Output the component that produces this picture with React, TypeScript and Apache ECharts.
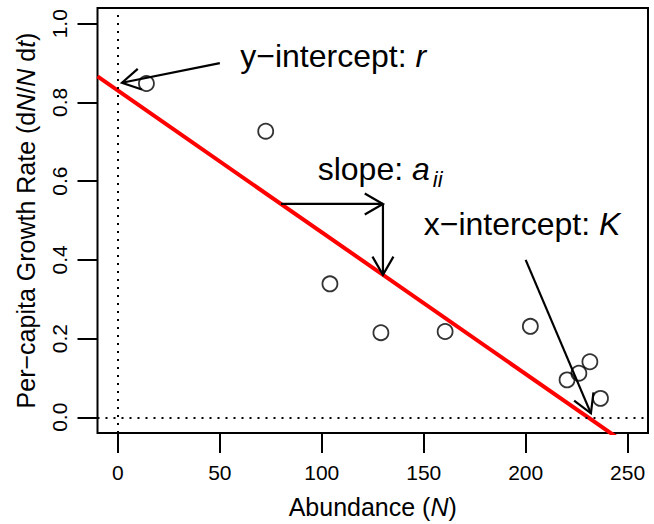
import React, { useEffect, useRef } from "react";
import * as echarts from "echarts";

// ---- data ----
const abundance = [14, 72.5, 104, 129, 160.5, 202.3, 220.3, 226.1, 231.5, 236.7];
const growthRate = [0.848, 0.727, 0.339, 0.215, 0.218, 0.231, 0.095, 0.112, 0.141, 0.048];
const xTicks = [0, 50, 100, 150, 200, 250];
const yTicks = [0, 0.2, 0.4, 0.6, 0.8, 1.0];
const xRange = [-10, 260];
const yRange = [-0.04, 1.04];
const fitIntercept = 0.83;
const fitSlope = -0.0036;

// annotation anchors (data units)
const yInterceptArrow = [[50, 0.9], [2, 0.85]];
const slopeArrowX = [80, 130];
const kArrow = [[200, 0.4], [232, 0.01]];
const yInterceptLabelPos = [60, 0.917];
const slopeLabelPos = [98, 0.632];
const kLabelPos = [150, 0.49];

const FONT = "'Liberation Sans', Arial, Helvetica, sans-serif";
const ANN_SIZE = 32;

function fitAt(x: number) {
  return fitIntercept + fitSlope * x;
}

function measure(text: string, font: string) {
  const c = document.createElement("canvas").getContext("2d")!;
  c.font = font;
  return c.measureText(text).width;
}

export default function App() {
  const ref = useRef<HTMLDivElement>(null);
  useEffect(() => {
    const chart = echarts.init(ref.current!, undefined, { renderer: "svg" });
    const option: any = {
      animation: false,
      textStyle: { fontFamily: FONT },
      grid: {
        left: 97.5,
        right: 6,
        top: 8,
        bottom: 85,
        show: true,
        borderColor: "#000",
        borderWidth: 2,
        backgroundColor: "transparent",
      },
      xAxis: {
        type: "value",
        min: xRange[0],
        max: xRange[1],
        name: "Abundance ({i|N})",
        nameLocation: "middle",
        nameGap: 61,
        nameTextStyle: {
          fontSize: 25,
          color: "#000",
          fontFamily: FONT,
          rich: { i: { fontSize: 25, fontStyle: "italic", fontFamily: FONT, color: "#000" } },
        },
        axisLine: { show: false, onZero: false },
        axisTick: {
          show: true,
          length: 20,
          lineStyle: { color: "#000", width: 2 },
          customValues: xTicks,
        },
        axisLabel: {
          show: true,
          fontSize: 21,
          color: "#000",
          margin: 29,
          customValues: xTicks,
          formatter: (v: number) => String(v),
        },
        splitLine: { show: false },
      },
      yAxis: {
        type: "value",
        min: yRange[0],
        max: yRange[1],
        name: "Per\u2212capita Growth Rate (d{i|N}/{i|N} d{i|t})",
        nameLocation: "middle",
        nameGap: 59,
        nameTextStyle: {
          fontSize: 25,
          color: "#000",
          fontFamily: FONT,
          rich: { i: { fontSize: 25, fontStyle: "italic", fontFamily: FONT, color: "#000" } },
        },
        axisLine: { show: false, onZero: false },
        axisTick: {
          show: true,
          length: 20,
          lineStyle: { color: "#000", width: 2 },
          customValues: yTicks,
        },
        axisLabel: {
          show: true,
          fontSize: 21,
          color: "#000",
          margin: 28,
          rotate: 90,
          customValues: yTicks,
          formatter: (v: number) => v.toFixed(1),
        },
        splitLine: { show: false },
      },
      series: [
        {
          type: "scatter",
          z: 2,
          data: abundance.map((x, i) => [x, growthRate[i]]),
          symbol: "circle",
          symbolSize: 15,
          itemStyle: { color: "rgba(0,0,0,0)", borderColor: "#000", borderWidth: 1.8 },
          markLine: {
            silent: true,
            symbol: ["none", "none"],
            label: { show: false },
            lineStyle: { color: "#000", type: [2, 6], width: 2 },
            data: [{ xAxis: 0 }, { yAxis: 0 }],
          },
        },
        {
          type: "line",
          z: 3,
          showSymbol: false,
          clip: true,
          data: [
            [xRange[0], fitAt(xRange[0])],
            [xRange[1], fitAt(xRange[1])],
          ],
          lineStyle: { color: "#ff0000", width: 4 },
        },
      ],
    };
    chart.setOption(option);

    const px = (p: number[]) => chart.convertToPixel({ gridIndex: 0 }, p) as number[];
    const HEAD = 21;
    const arrow = (a: number[], b: number[]) => {
      const p0 = px(a);
      const p1 = px(b);
      const th = Math.atan2(p1[1] - p0[1], p1[0] - p0[0]);
      const ang = Math.PI / 6;
      const h1 = [p1[0] - HEAD * Math.cos(th - ang), p1[1] - HEAD * Math.sin(th - ang)];
      const h2 = [p1[0] - HEAD * Math.cos(th + ang), p1[1] - HEAD * Math.sin(th + ang)];
      const ls = { stroke: "#000", lineWidth: 2.2, fill: null };
      return [
        { type: "polyline", z: 100, shape: { points: [p0, p1] }, style: ls },
        { type: "polyline", z: 100, shape: { points: [h1, p1, h2] }, style: ls },
      ];
    };

    const normalFont = `${ANN_SIZE}px ${FONT}`;
    const italicFont = `italic ${ANN_SIZE}px ${FONT}`;
    const sp = px(slopeLabelPos);
    const slopeW = measure("slope: ", normalFont) + measure("a", italicFont);

    const txt = (p: number[], text: string, rich?: any, size = ANN_SIZE, italic = false) => ({
      type: "text",
      z: 100,
      x: p[0],
      y: p[1],
      style: {
        text,
        fontSize: size,
        fontFamily: FONT,
        fontStyle: italic ? "italic" : "normal",
        fill: "#000",
        align: "left",
        verticalAlign: "middle",
        rich,
      },
    });
    const richI = {
      i: { fontSize: ANN_SIZE, fontFamily: FONT, fontStyle: "italic", fill: "#000", color: "#000" },
    };

    const graphics: any[] = [
      ...arrow(yInterceptArrow[0], yInterceptArrow[1]),
      ...arrow(
        [slopeArrowX[0], fitAt(slopeArrowX[0])],
        [slopeArrowX[1], fitAt(slopeArrowX[0])]
      ),
      ...arrow(
        [slopeArrowX[1], fitAt(slopeArrowX[0])],
        [slopeArrowX[1], fitAt(slopeArrowX[1])]
      ),
      ...arrow(kArrow[0], kArrow[1]),
      txt(px(yInterceptLabelPos), "y\u2212intercept: {i|r}", richI),
      txt(sp, "slope: {i|a}", richI),
      txt([sp[0] + slopeW + 3, sp[1] + 11], "ii", undefined, 22, true),
      txt(px(kLabelPos), "x\u2212intercept: {i|K}", richI),
    ];
    chart.setOption({ graphic: graphics });

    return () => chart.dispose();
  }, []);
  return (
    <div
      ref={ref}
      style={{ position: "fixed", left: 0, top: 0, width: 654, height: 524, background: "#fff" }}
    />
  );
}
